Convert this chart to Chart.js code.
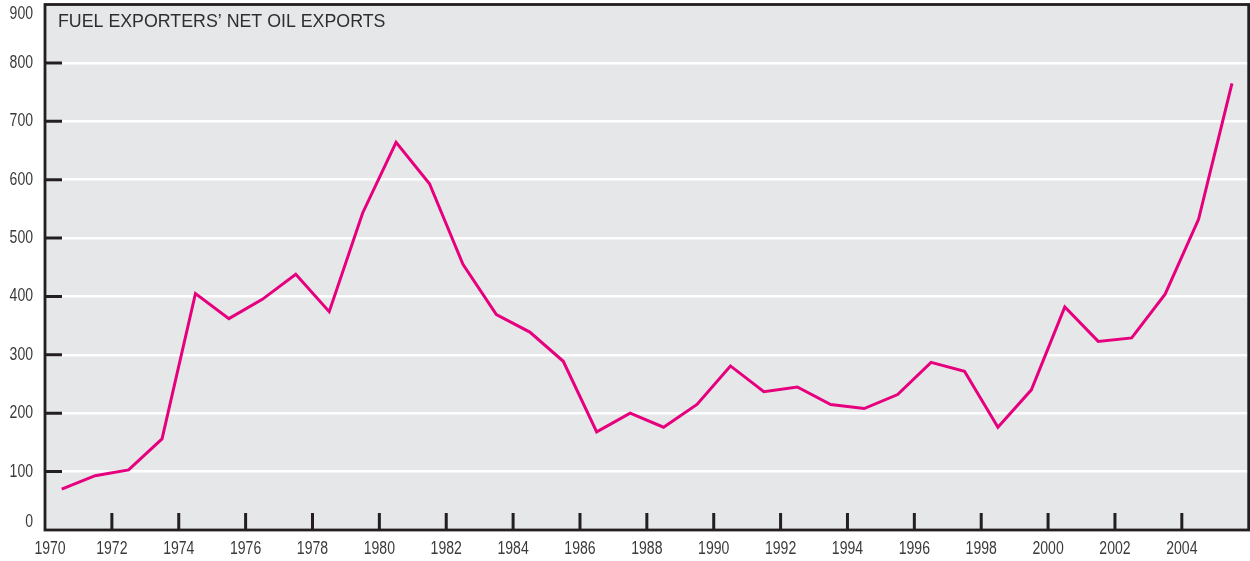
<!DOCTYPE html>
<html>
<head>
<meta charset="utf-8">
<title>Fuel exporters' net oil exports</title>
<script src="https://cdn.jsdelivr.net/npm/chart.js@4"></script>
<style>
  html, body { margin: 0; padding: 0; background: #fff; }
  #chart { display: block; }
</style>
</head>
<body>
<canvas id="chart" width="1250" height="561"></canvas>
<script>
// years (points sit in the middle of each year)
const years = [1970, 1971, 1972, 1973, 1974, 1975, 1976, 1977, 1978, 1979,
  1980, 1981, 1982, 1983, 1984, 1985, 1986, 1987, 1988, 1989,
  1990, 1991, 1992, 1993, 1994, 1995, 1996, 1997, 1998, 1999,
  2000, 2001, 2002, 2003, 2004, 2005];
const netOilExports = [70, 93, 103, 156, 405, 362, 395, 438, 374, 543,
  664, 593, 455, 369, 339, 289, 168, 200, 176, 215,
  281, 237, 245, 215, 208, 232, 287, 272, 176, 240,
  382, 323, 329, 404, 532, 765];
const yTicks = [0, 100, 200, 300, 400, 500, 600, 700, 800, 900];
const xTickYears = [1970, 1972, 1974, 1976, 1978, 1980, 1982, 1984, 1986, 1988,
  1990, 1992, 1994, 1996, 1998, 2000, 2002, 2004];
const chartTitle = 'FUEL EXPORTERS\u2019 NET OIL EXPORTS';

const ink = '#231f20';
const labelFont = '18px "Liberation Sans", Arial, sans-serif';

// condensed label: squeeze the font horizontally
function narrowText(ctx, text, x, y, align) {
  const squeeze = 0.78;
  ctx.save();
  ctx.translate(x, y);
  ctx.scale(squeeze, 1);
  ctx.textAlign = align;
  ctx.fillText(text, 0, 0);
  ctx.restore();
}

const frame = {
  id: 'frame',
  beforeDraw(chart) {
    const { ctx, chartArea: a } = chart;
    ctx.save();
    ctx.fillStyle = '#e6e7e9';
    ctx.fillRect(a.left, a.top, a.right - a.left, a.bottom - a.top);
    ctx.restore();
  },
  afterDraw(chart) {
    const { ctx, chartArea: a, scales } = chart;
    const x = scales.x, y = scales.y;
    ctx.save();
    // ticks
    ctx.strokeStyle = ink;
    ctx.lineWidth = 3;
    ctx.beginPath();
    xTickYears.forEach(yr => {
      if (yr === 1970) return;
      const px = x.getPixelForValue(yr);
      ctx.moveTo(px, a.bottom);
      ctx.lineTo(px, a.bottom - 17);
    });
    yTicks.forEach(v => {
      if (v === 0 || v === 900) return;
      const py = y.getPixelForValue(v);
      ctx.moveTo(a.left, py);
      ctx.lineTo(a.left + 17, py);
    });
    ctx.stroke();
    // frame
    ctx.lineWidth = 2.8;
    ctx.strokeRect(a.left, a.top, a.right - a.left, a.bottom - a.top);

    // labels
    ctx.fillStyle = '#3a3a3a';
    ctx.font = labelFont;
    ctx.textBaseline = 'middle';
    yTicks.forEach(v => {
      let py = y.getPixelForValue(v);
      py = Math.min(Math.max(py, a.top + 10), a.bottom - 8);
      narrowText(ctx, String(v), a.left - 12, py, 'right');
    });
    xTickYears.forEach(yr => {
      let px = x.getPixelForValue(yr);
      px = Math.max(px, a.left + 5);
      narrowText(ctx, String(yr), px, a.bottom + 19, 'center');
    });

    // title inside the plot
    ctx.textAlign = 'left';
    ctx.textBaseline = 'alphabetic';
    ctx.fillStyle = '#2e2e2e';
    ctx.font = '17.8px "Liberation Sans", Arial, sans-serif';
    ctx.fillText(chartTitle, a.left + 13, a.top + 22);
    ctx.restore();
  }
};

new Chart(document.getElementById('chart'), {
  type: 'line',
  data: {
    datasets: [{
      label: 'Net oil exports',
      data: years.map((yr, i) => ({ x: yr + 0.5, y: netOilExports[i] })),
      borderColor: '#e6007e',
      borderWidth: 3,
      pointRadius: 0,
      tension: 0,
      fill: false,
    }],
  },
  options: {
    responsive: false,
    animation: false,
    layout: { padding: { top: 4.5, right: 1.3, left: 0, bottom: 0 } },
    plugins: { legend: { display: false }, tooltip: { enabled: false } },
    scales: {
      x: {
        type: 'linear',
        min: 1970,
        max: 2006,
        grid: { display: false, drawTicks: false },
        border: { display: false },
        ticks: { display: false, stepSize: 2 },
        afterFit(scale) { scale.height = 31; },
      },
      y: {
        min: 0,
        max: 900,
        grid: {
          drawTicks: false,
          lineWidth: 2.5,
          color: ctx => (ctx.tick && ctx.tick.value > 0 && ctx.tick.value < 900) ? '#ffffff' : 'rgba(0,0,0,0)',
        },
        border: { display: false },
        ticks: { display: false, stepSize: 100 },
        afterFit(scale) { scale.width = 45; },
      },
    },
  },
  plugins: [frame],
});
</script>
</body>
</html>
